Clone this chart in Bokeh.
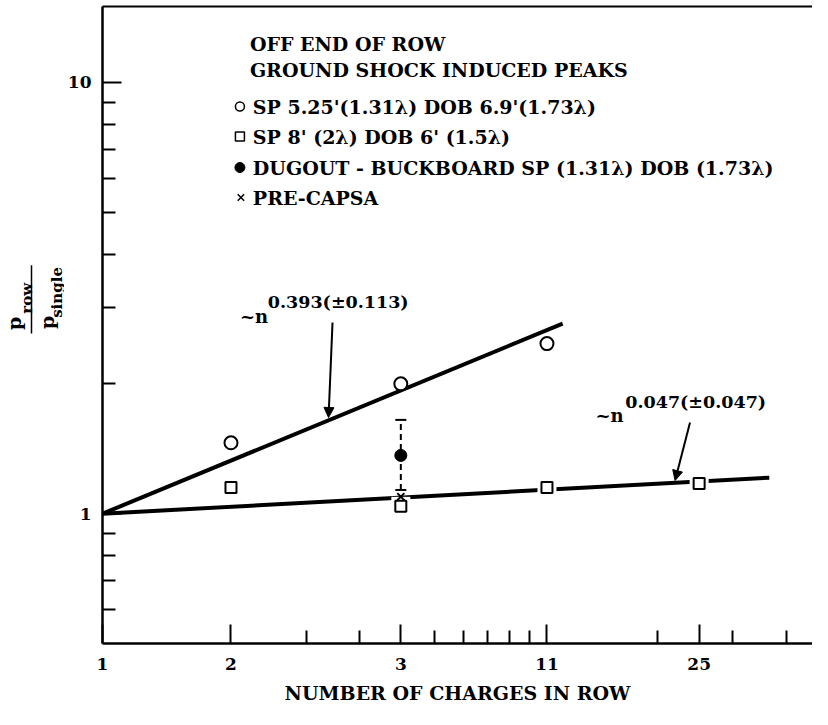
import math
from bokeh.plotting import figure
from bokeh.layouts import row
from bokeh.models import FixedTicker, LogAxis, Label, Arrow, NormalHead, Range1d
from bokeh.embed import file_html
from bokeh.resources import INLINE

# ---------------- data ----------------
circle_n = [2, 5, 11]
circle_ratio = [1.46, 2.00, 2.48]

square_n = [2, 5, 11, 25]
square_ratio = [1.15, 1.04, 1.15, 1.175]

dugout_n = [5]
dugout_ratio = [1.365]
dugout_high = [1.65]
dugout_low = [1.135]

precapsa_n = [5]
precapsa_ratio = [1.095]

fit_upper_n = [1, 11.97]
fit_upper_ratio = [1.0, 2.76]
fit_lower_n = [1, 36.5]
fit_lower_ratio = [1.0, 1.212]

x_tick_values = [1, 2, 5, 11, 25]
x_tick_labels = ["1", "2", "3", "11", "25"]
x_minor_values = [3, 4, 6, 7, 8, 9, 10, 20, 30, 40]
y_tick_values = [1, 10]
y_tick_labels = ["1", "10"]
y_minor_values = [0.6, 0.7, 0.8, 0.9, 2, 3, 4, 5, 6, 7, 8, 9]

legend_header = ["OFF END OF ROW", "GROUND SHOCK INDUCED PEAKS"]
legend_items = ["SP 5.25'(1.31\u03bb) DOB 6.9'(1.73\u03bb)",
                "SP 8' (2\u03bb) DOB 6' (1.5\u03bb)",
                "DUGOUT - BUCKBOARD SP (1.31\u03bb) DOB (1.73\u03bb)",
                "PRE-CAPSA"]
fit_upper_label = ["~n", "0.393(\u00b10.113)"]
fit_lower_label = ["~n", "0.047(\u00b10.047)"]
x_title = "NUMBER OF CHARGES IN ROW"
y_title = ["p", "row", "p", "single"]

# ---------------- layout ----------------
W, H = 812, 709           # whole page content (8px page margin)
LW = 64                   # strip on the left holding the y title (page x 8..72)
FL, FR, FT, FB = 107, 820, 14, 651   # frame edges of the main plot, page pixels
X_DEC = 428.6
X_START = 1.0
X_END = 10 ** ((FR - FL) / X_DEC)
Y_START, Y_END = 0.5, 15.0
Y_DEC = (FB - FT) / math.log10(Y_END / Y_START)


def xd(px):
    return X_START * 10 ** ((px - FL) / X_DEC)


def yd(py):
    return Y_START * 10 ** ((FB - py) / Y_DEC)


def ly(py):
    # page y -> data y of the left strip (range 8..8+H, bottom to top)
    return (8 + H) + 8 - py


FONT = "DejaVu Serif"
STYLE = "bold"

# ---------- left strip: y-axis title as a rotated fraction ----------
left = figure(width=LW, height=H, x_range=Range1d(8, 8 + LW), y_range=Range1d(8, 8 + H),
              output_backend="svg", toolbar_location=None, min_border=0,
              x_axis_location=None, y_axis_location=None)
left.outline_line_color = None
left.xgrid.visible = False
left.ygrid.visible = False
left.background_fill_color = "white"
left.border_fill_color = "white"

ang = math.pi / 2


def llab(px, py, text, size, align="left"):
    left.add_layout(Label(x=px, y=ly(py), text=text, text_font=FONT, text_font_style=STYLE,
                          text_font_size=size, text_align=align,
                          text_baseline="alphabetic", text_color="black",
                          angle=ang, angle_units="rad"))


llab(21, 368, y_title[0], "19px")
llab(34, 350, y_title[1], "15px")
left.segment(x0=[39], y0=[ly(296)], x1=[39], y1=[ly(372)], line_width=1.5, line_color="black")
llab(54, 367, y_title[2], "19px")
llab(64, 298, y_title[3], "15px", align="right")

# ---------- main plot ----------
p = figure(width=W - LW, height=H, x_axis_type="log", y_axis_type="log",
           x_range=(X_START, X_END), y_range=(Y_START, Y_END),
           output_backend="svg", toolbar_location=None,
           min_border_left=FL - (8 + LW), min_border_right=8 + W - FR,
           min_border_top=FT - 8, min_border_bottom=8 + H - FB)
p.outline_line_color = None
p.xgrid.visible = False
p.ygrid.visible = False
p.background_fill_color = "white"
p.border_fill_color = "white"

xa = p.xaxis[0]
xa.ticker = FixedTicker(ticks=x_tick_values, minor_ticks=x_minor_values)
xa.major_label_overrides = {float(v): t for v, t in zip(x_tick_values, x_tick_labels)}
ya = p.yaxis[0]
ya.ticker = FixedTicker(ticks=y_tick_values, minor_ticks=y_minor_values)
ya.major_label_overrides = {float(v): t for v, t in zip(y_tick_values, y_tick_labels)}
for ax in (xa, ya):
    ax.axis_line_width = 2.5
    ax.axis_line_color = "black"
    ax.major_tick_in = 19
    ax.major_tick_out = 0
    ax.minor_tick_in = 13
    ax.minor_tick_out = 0
    ax.major_tick_line_width = 2
    ax.minor_tick_line_width = 2
    ax.major_tick_line_color = "black"
    ax.minor_tick_line_color = "black"
    ax.major_label_text_font = FONT
    ax.major_label_text_font_style = STYLE
    ax.major_label_text_font_size = "17px"
    ax.major_label_text_color = "black"
xa.major_label_standoff = 14
ya.major_label_standoff = 11
xa.axis_label = x_title
xa.axis_label_text_font = FONT
xa.axis_label_text_font_style = STYLE
xa.axis_label_text_font_size = "19px"
xa.axis_label_text_color = "black"
xa.axis_label_standoff = 9

top = LogAxis(ticker=FixedTicker(ticks=[]), axis_line_width=2,
              major_tick_line_color=None, minor_tick_line_color=None,
              major_label_text_font_size="0px", major_label_standoff=0)
p.add_layout(top, "above")

# fit lines
p.line(fit_upper_n, fit_upper_ratio, line_width=4, line_color="black")
p.line(fit_lower_n, fit_lower_ratio, line_width=4, line_color="black")

# error bar (dugout)
p.segment(x0=dugout_n, y0=dugout_low, x1=dugout_n, y1=dugout_high,
          line_width=2, line_color="black", line_dash="6 4")
p.scatter(dugout_n, dugout_high, marker="dash", size=11, line_width=2, line_color="black")
p.scatter(dugout_n, dugout_low, marker="dash", size=11, line_width=2, line_color="black")

# markers
p.scatter(square_n, square_ratio, marker="square", size=19, fill_color="white", line_color=None)
p.scatter(square_n, square_ratio, marker="square", size=11, fill_color="white",
          line_color="black", line_width=2)
p.scatter(circle_n, circle_ratio, marker="circle", size=13, fill_color="white",
          line_color="black", line_width=2)
p.scatter(dugout_n, dugout_ratio, marker="circle", size=12, fill_color="black",
          line_color="black")
p.scatter(precapsa_n, precapsa_ratio, marker="x", size=10, line_color="black", line_width=2)


def lab(px, py, text, size="19px", align="left", baseline="middle"):
    p.add_layout(Label(x=xd(px), y=yd(py), text=text, text_font=FONT,
                       text_font_style=STYLE, text_font_size=size, text_align=align,
                       text_baseline=baseline, text_color="black"))


# legend block
lab(255, 51, legend_header[0])
lab(255, 77, legend_header[1])
leg_y = [114, 144, 175, 205]
for t, yy in zip(legend_items, leg_y):
    lab(258, yy, t)
p.scatter(x=[xd(245)], y=[yd(leg_y[0])], marker="circle", size=9, fill_color="white",
          line_color="black", line_width=1.5)
p.scatter(x=[xd(245)], y=[yd(leg_y[1])], marker="square", size=9, fill_color="white",
          line_color="black", line_width=1.5)
p.scatter(x=[xd(245)], y=[yd(leg_y[2])], marker="circle", size=10, fill_color="black",
          line_color="black")
p.scatter(x=[xd(246)], y=[yd(leg_y[3])], marker="x", size=9, line_color="black",
          line_width=1.5)

# fit annotations
lab(245, 324, fit_upper_label[0], size="18px", baseline="alphabetic")
lab(273, 309, fit_upper_label[1], size="17.5px", baseline="alphabetic")
lab(602, 423, fit_lower_label[0], size="18px", baseline="alphabetic")
lab(632, 409, fit_lower_label[1], size="17.5px", baseline="alphabetic")
p.add_layout(Arrow(end=NormalHead(size=10, fill_color="black", line_color="black"),
                   x_start=xd(338), y_start=yd(330), x_end=xd(334), y_end=yd(425),
                   line_width=2, line_color="black"))
p.add_layout(Arrow(end=NormalHead(size=10, fill_color="black", line_color="black"),
                   x_start=xd(697), y_start=yd(430), x_end=xd(682), y_end=yd(488),
                   line_width=2, line_color="black"))

layout = row(left, p)
open("out.html", "w").write(file_html(layout, INLINE))
